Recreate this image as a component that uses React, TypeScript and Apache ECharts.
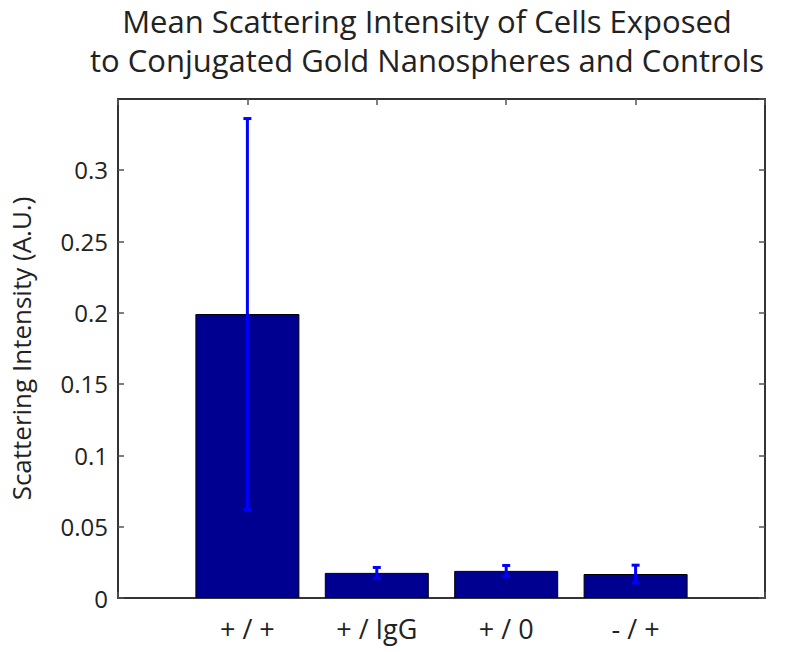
import React, { useEffect, useRef } from "react";
import * as echarts from "echarts";

const categories = ["+ / +", "+ / IgG", "+ / 0", "- / +"];
const means = [0.199, 0.0176, 0.019, 0.0168];
const errors = [0.137, 0.0038, 0.0038, 0.0062];
const titleLines = [
  "Mean Scattering Intensity of Cells Exposed",
  "to Conjugated Gold Nanospheres and Controls",
];
const yAxisName = "Scattering Intensity (A.U.)";

const FONT = "'Open Sans', 'Noto Sans', sans-serif";

export default function App() {
  const ref = useRef<HTMLDivElement>(null);
  useEffect(() => {
    if (!ref.current) return;
    const chart = echarts.init(ref.current, undefined, { renderer: "svg" });
    const barData = means.map((v, i) => [i + 1, v]);
    const errData = means.map((v, i) => [i + 1, v - errors[i], v + errors[i]]);
    const axisLine = { show: true, onZero: false, lineStyle: { color: "#333", width: 2 } };
    const tickStyle = { color: "#555", width: 1.5 };
    chart.setOption({
      animation: false,
      backgroundColor: "#fff",
      title: {
        text: titleLines.join("\n"),
        left: 422,
        top: -4,
        textAlign: "center",
        textStyle: {
          fontFamily: FONT,
          fontSize: 31,
          fontWeight: "normal",
          color: "#222",
          lineHeight: 39,
        },
      },
      grid: { left: 118, right: 35, top: 99, bottom: 54, containLabel: false },
      xAxis: [
        {
          type: "value",
          min: 0,
          max: 5,
          interval: 1,
          position: "bottom",
          axisLine,
          axisTick: { show: true, inside: true, length: 6, lineStyle: tickStyle },
          splitLine: { show: false },
          axisLabel: {
            fontFamily: FONT,
            fontSize: 27,
            color: "#222",
            margin: 17,
            formatter: (v: number) => (v >= 1 && v <= categories.length ? categories[v - 1] : ""),
          },
        },
        {
          type: "value",
          min: 0,
          max: 5,
          interval: 1,
          position: "top",
          axisLine,
          axisTick: { show: true, inside: true, length: 6, lineStyle: tickStyle },
          splitLine: { show: false },
          axisLabel: { show: false },
        },
      ],
      yAxis: [
        {
          type: "value",
          min: 0,
          max: 0.3497,
          interval: 0.05,
          position: "left",
          axisLine,
          axisTick: { show: true, inside: true, length: 6, lineStyle: tickStyle },
          splitLine: { show: false },
          axisLabel: {
            fontFamily: FONT,
            fontSize: 24,
            color: "#222",
            margin: 10,
            showMaxLabel: false,
            formatter: (v: number) => String(parseFloat(v.toFixed(2))),
          },
          name: yAxisName,
          nameLocation: "middle",
          nameGap: 84,
          nameRotate: 90,
          nameTextStyle: { fontFamily: FONT, fontSize: 26, color: "#222" },
        },
        {
          type: "value",
          min: 0,
          max: 0.3497,
          interval: 0.05,
          position: "right",
          axisLine,
          axisTick: { show: true, inside: true, length: 6, lineStyle: tickStyle },
          splitLine: { show: false },
          axisLabel: { show: false },
        },
      ],
      series: [
        {
          type: "bar",
          xAxisIndex: 0,
          yAxisIndex: 0,
          data: barData,
          barWidth: 104,
          itemStyle: { color: "#000090", borderColor: "#000", borderWidth: 1 },
        },
        {
          type: "custom",
          xAxisIndex: 0,
          yAxisIndex: 0,
          encode: { x: 0, y: [1, 2] },
          data: errData,
          z: 5,
          renderItem: (_params: any, api: any) => {
            const x = api.value(0);
            const lo = api.coord([x, api.value(1)]);
            const hi = api.coord([x, api.value(2)]);
            const cap = 4;
            const style = { stroke: "#0000ff", lineWidth: 3 };
            return {
              type: "group",
              children: [
                { type: "line", shape: { x1: lo[0], y1: lo[1], x2: hi[0], y2: hi[1] }, style },
                { type: "line", shape: { x1: lo[0] - cap, y1: lo[1], x2: lo[0] + cap, y2: lo[1] }, style },
                { type: "line", shape: { x1: hi[0] - cap, y1: hi[1], x2: hi[0] + cap, y2: hi[1] }, style },
              ],
            };
          },
        },
      ],
    });
    return () => chart.dispose();
  }, []);
  return <div ref={ref} style={{ width: 800, height: 652, position: "absolute", left: 0, top: 0 }} />;
}
